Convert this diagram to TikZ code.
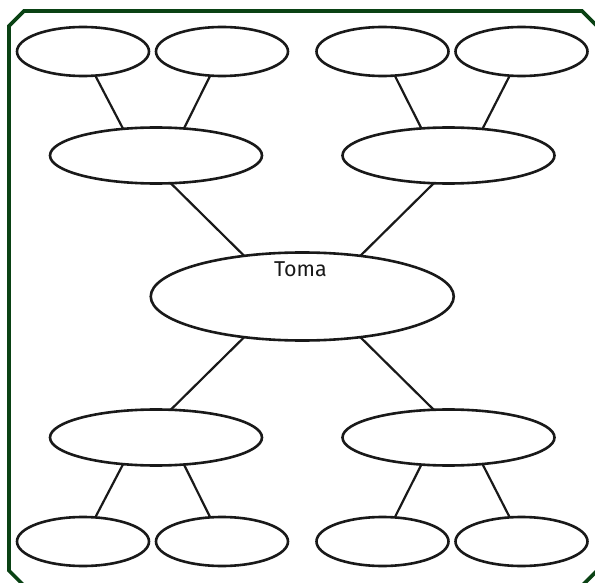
\documentclass[tikz,border=0pt]{standalone}
\usepackage{fontspec}
\setmainfont{Fira Sans}
\usetikzlibrary{shapes.geometric}
\definecolor{framegreen}{RGB}{10,66,20}
\begin{document}
\begin{tikzpicture}[x=1pt,y=-1pt,
  bubble/.style={draw=black!90, ellipse, line width=2.6pt, inner sep=0pt, outer sep=0pt},
  leaf/.style={bubble, minimum width=132pt, minimum height=49pt},
  midbubble/.style={bubble, minimum width=212pt, minimum height=56pt},
  hub/.style={bubble, minimum width=303pt, minimum height=88pt},
  link/.style={draw=black!90, line width=2.2pt},
  frame/.style={draw=framegreen, line width=3.6pt, line join=miter}]
\useasboundingbox (0,0) rectangle (595,583);
\clip (0,0) rectangle (595,583);
\draw[frame] (9,26) -- (24,11) -- (582,11) -- (597,26) -- (597,570.7) -- (582,585.7) -- (24,585.7) -- (9,570.7) -- cycle;

\node[leaf] (l1) at (83,51.5) {};
\node[leaf] (l2) at (222,51.5) {};
\node[leaf] (l3) at (382.5,51.5) {};
\node[leaf] (l4) at (521.5,51.5) {};
\node[midbubble] (m1) at (156,155.5) {};
\node[midbubble] (m2) at (448.5,155.5) {};
\node[hub] (c) at (302.25,296.5) {};
\node[midbubble] (m3) at (156,437.5) {};
\node[midbubble] (m4) at (448.5,437.5) {};
\node[leaf] (b1) at (83,541.5) {};
\node[leaf] (b2) at (222,541.5) {};
\node[leaf] (b3) at (382.5,541.5) {};
\node[leaf] (b4) at (521.5,541.5) {};

\node[font=\fontsize{21.5}{25}\selectfont, text=black!90, anchor=base, inner sep=0pt] (t) at (300.5,276.7) {Toma};

\draw[link] (l1.-63.5) -- (m1.141.4);
\draw[link] (l2.-116.5) -- (m1.44.7);
\draw[link] (l3.-63.5) -- (m2.135.3);
\draw[link] (l4.-116.5) -- (m2.38.6);
\draw[link] (m1.-62) -- (c.145);
\draw[link] (m2.-118) -- (c.35);
\draw[link] (c.-145) -- (m3.62);
\draw[link] (c.-35) -- (m4.118);
\draw[link] (m3.-141.4) -- (b1.63.5);
\draw[link] (m3.-44.7) -- (b2.116.5);
\draw[link] (m4.-135.3) -- (b3.63.5);
\draw[link] (m4.-38.6) -- (b4.116.5);
\end{tikzpicture}
\end{document}
